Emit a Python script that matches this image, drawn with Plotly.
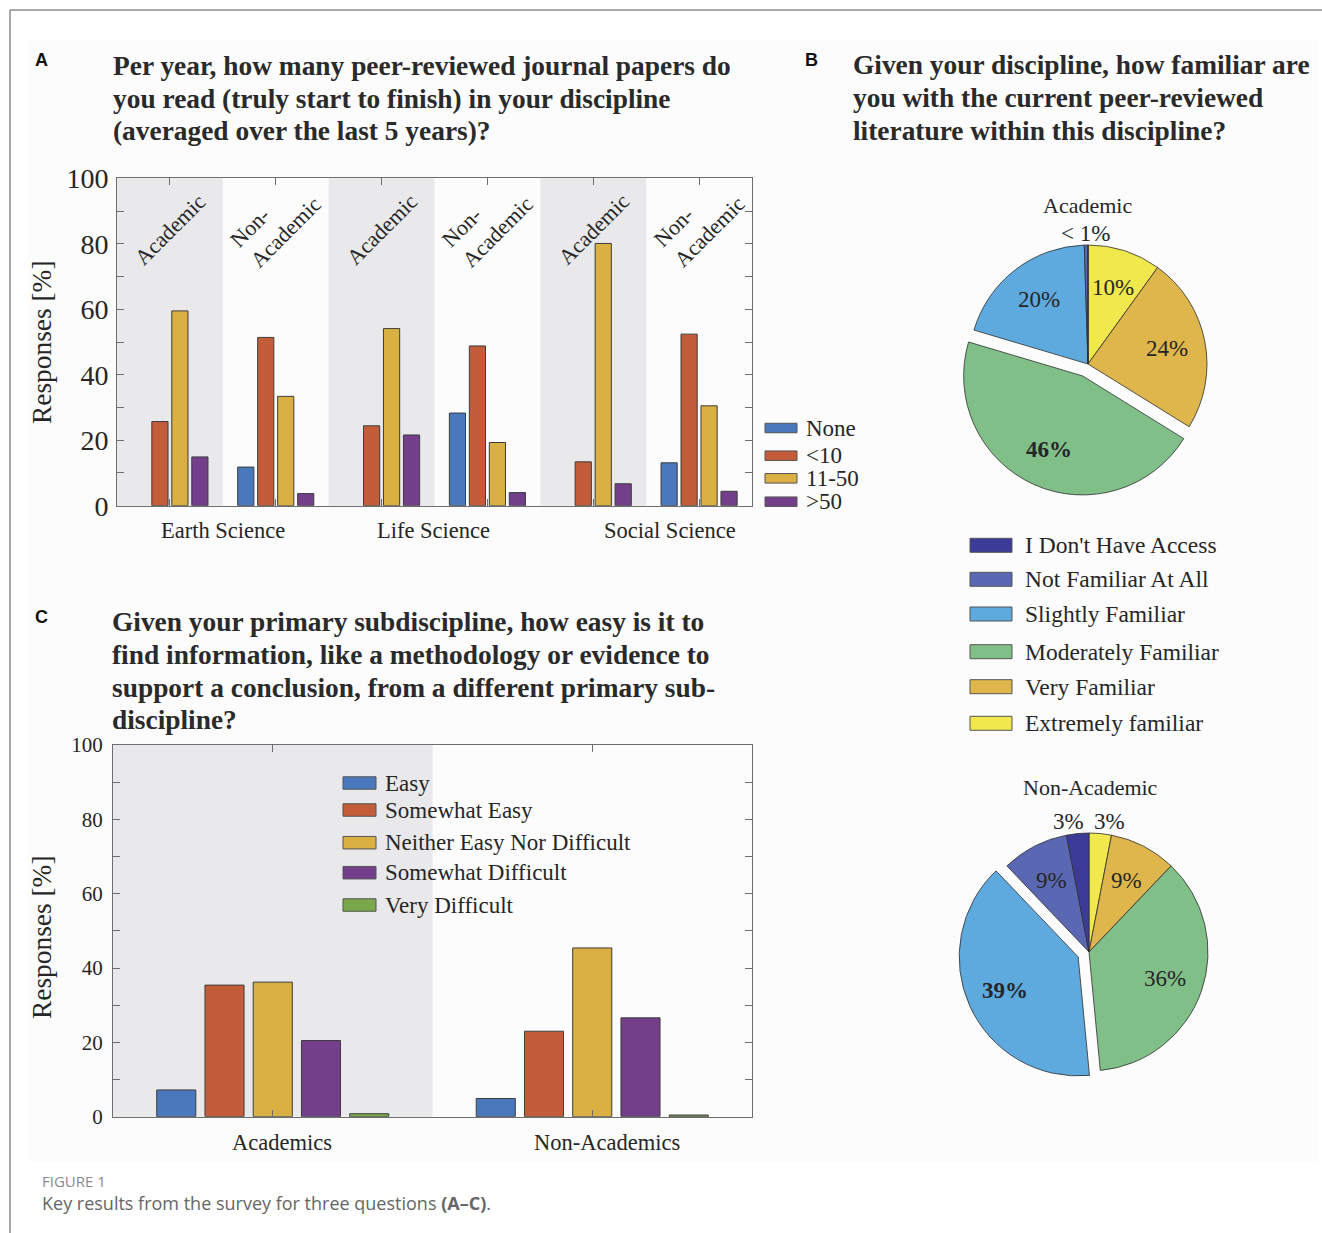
import math
import plotly.graph_objects as go

W, H = 1322, 1233
SERIF = "Liberation Serif, Times New Roman, serif"
SANS = "Liberation Sans, Arial, sans-serif"
INK = "#262626"

# ---------------- Panel A: papers read per year ----------------
group_pos = [1, 2, 3, 4, 5, 6]
cohort_labels = ["Academic", "Non-<br>Academic", "Academic", "Non-<br>Academic",
                 "Academic", "Non-<br>Academic"]
disciplines = ["Earth Science", "Life Science", "Social Science"]
reading_levels = ["None", "<10", "11-50", ">50"]
reads_none = [0, 11.8, 0, 28.3, 0, 13.1]
reads_lt10 = [25.7, 51.4, 24.4, 48.8, 13.4, 52.4]
reads_11_50 = [59.5, 33.4, 54.1, 19.3, 80.1, 30.5]
reads_gt50 = [14.9, 3.7, 21.6, 4.0, 6.7, 4.4]

# ---------------- Panel B: familiarity with literature ----------------
familiarity = ["Extremely familiar", "Very Familiar", "Moderately Familiar",
               "Slightly Familiar", "Not Familiar At All", "I Don't Have Access"]
academic_share = [10, 24, 46, 20, 0.5, 0]
academic_text = ["10%", "24%", "46%", "20%", "< 1%", ""]
non_academic_share = [3, 9, 36, 39, 9, 3]
non_academic_text = ["3%", "9%", "36%", "39%", "9%", "3%"]
legend_order_b = ["I Don't Have Access", "Not Familiar At All", "Slightly Familiar",
                  "Moderately Familiar", "Very Familiar", "Extremely familiar"]

# ---------------- Panel C: ease of finding information ----------------
audiences = ["Academics", "Non-Academics"]
audience_pos = [1, 2]
ease_levels = ["Easy", "Somewhat Easy", "Neither Easy Nor Difficult",
               "Somewhat Difficult", "Very Difficult"]
ease_academics = [7.2, 35.4, 36.2, 20.5, 0.8]
ease_non_academics = [4.9, 23.0, 45.4, 26.6, 0.45]

# ---------------- colours ----------------
BLUE, ORANGE, YELLOW, PURPLE, GREEN = "#4a78bd", "#c35c39", "#dbb042", "#733f8b", "#79a84b"
reading_colors = [BLUE, ORANGE, YELLOW, PURPLE]
ease_colors = [BLUE, ORANGE, YELLOW, PURPLE, GREEN]
fam_colors = {
    "Extremely familiar": "#f0e84c",
    "Very Familiar": "#dfb64b",
    "Moderately Familiar": "#80bf88",
    "Slightly Familiar": "#5ea9dd",
    "Not Familiar At All": "#5a68b3",
    "I Don't Have Access": "#3c3c98",
}
BAR_EDGE = "#3d3d3d"
AXIS_GRAY = "#6e6e6e"


def px(x):
    return x / W


def py(y):
    return 1 - y / H


def text(t, x, y, size, family=SERIF, color=INK, xanchor="center", yanchor="middle", **kw):
    return dict(text=t, x=px(x), y=py(y), xref="paper", yref="paper",
                showarrow=False, xanchor=xanchor, yanchor=yanchor,
                font=dict(family=family, size=size, color=color), **kw)


fig = go.Figure()

# bars of panel A (empty bars get no outline)
for name, vals, col in zip(reading_levels, [reads_none, reads_lt10, reads_11_50, reads_gt50],
                           reading_colors):
    fig.add_trace(go.Bar(x=group_pos, y=vals, name=name,
                         marker=dict(color=col, line=dict(color=BAR_EDGE,
                                     width=[1 if v > 0 else 0 for v in vals])),
                         xaxis="x", yaxis="y", showlegend=False))

# bars of panel C
for i, (name, col) in enumerate(zip(ease_levels, ease_colors)):
    fig.add_trace(go.Bar(x=audience_pos, y=[ease_academics[i], ease_non_academics[i]],
                         name=name, marker=dict(color=col, line=dict(color=BAR_EDGE, width=1)),
                         xaxis="x2", yaxis="y2", showlegend=False))

# pies of panel B
PIE_R = 119
pies = [
    (academic_share, academic_text, (1088, 364), 0.11, 2),
    (non_academic_share, non_academic_text, (1089, 952), 0.10, 3),
]
annotations = []
for share, labels, (cx, cy), pull_amt, pulled in pies:
    half = PIE_R * (1 + pull_amt)
    pulls = [pull_amt if k == pulled else 0 for k in range(len(share))]
    fig.add_trace(go.Pie(
        values=share, labels=familiarity, sort=False, direction="clockwise", rotation=0,
        pull=pulls, textinfo="none", hoverinfo="label+percent", showlegend=False,
        automargin=False,
        marker=dict(colors=[fam_colors[f] for f in familiarity],
                    line=dict(color="#2e2e2e", width=0.8)),
        domain=dict(x=[px(cx - half), px(cx + half)], y=[py(cy + half), py(cy - half)]),
    ))
    # percentage labels placed at each slice's mid angle
    total = sum(share)
    n_small = sum(1 for v, lab in zip(share, labels) if lab and v < 5)
    cum = 0
    for k, (v, lab) in enumerate(zip(share, labels)):
        mid = (cum + v / 2) / total * 2 * math.pi
        cum += v
        if not lab:
            continue
        small = v < 5
        dist = PIE_R * (1.1 if small else 0.68) + (pulls[k] * PIE_R)
        lx = cx + dist * math.sin(mid)
        ly = cy - dist * math.cos(mid)
        # keep neighbouring outside labels apart
        shift = 0
        if small and n_small > 1:
            shift = 8 if math.sin(mid) > 0 else -8
        bold = k == pulled
        annotations.append(text(f"<b>{lab}</b>" if bold else lab, lx, ly, 23, xshift=shift))

axis_common = dict(ticks="inside", ticklen=7, tickcolor=AXIS_GRAY, showline=True,
                   linecolor=AXIS_GRAY, linewidth=1, mirror="ticks", showgrid=False,
                   zeroline=False, automargin=False)
y_ticks = list(range(0, 101, 10))
y_text = [str(v) if v % 20 == 0 else "" for v in y_ticks]

fig.update_layout(
    width=W, height=H, margin=dict(l=0, r=0, t=0, b=0, pad=0, autoexpand=False),
    paper_bgcolor="white", plot_bgcolor="white",
    barmode="group", bargap=0.245, bargroupgap=0.19,
    xaxis=dict(domain=[px(117), px(752)], range=[0.5, 6.5], tickvals=group_pos,
               showticklabels=False, anchor="y", **axis_common),
    yaxis=dict(domain=[py(505.7), py(178.3)], range=[0, 100], tickvals=y_ticks,
               ticktext=y_text, tickfont=dict(family=SERIF, size=28, color=INK),
               ticklabelstandoff=2, anchor="x", **axis_common),
    xaxis2=dict(domain=[px(113), px(752)], range=[0.5, 2.5], tickvals=audience_pos,
                showticklabels=False, anchor="y2", **axis_common),
    yaxis2=dict(domain=[py(1116.7), py(745)], range=[0, 100], tickvals=y_ticks,
                ticktext=y_text, tickfont=dict(family=SERIF, size=21, color=INK),
                ticklabelstandoff=5, anchor="x2", **axis_common),
)

shapes = []
# page frame and light figure backdrop
shapes.append(dict(type="rect", xref="paper", yref="paper", x0=px(28), x1=px(1318),
                   y0=py(1162), y1=py(40), fillcolor="#fcfcfc", line=dict(width=0),
                   layer="below"))
shapes.append(dict(type="line", xref="paper", yref="paper", x0=px(10), x1=1, y0=py(10),
                   y1=py(10), line=dict(color="#8c8c8c", width=1.5)))
shapes.append(dict(type="line", xref="paper", yref="paper", x0=px(10), x1=px(10), y0=0,
                   y1=py(10), line=dict(color="#8c8c8c", width=1.5)))
# shaded bands behind academic groups
for g in [1, 3, 5]:
    shapes.append(dict(type="rect", xref="x", yref="y domain", x0=g - 0.5, x1=g + 0.5,
                       y0=0, y1=1, fillcolor="#e9e8ea", line=dict(width=0), layer="below"))
shapes.append(dict(type="rect", xref="x2", yref="y2 domain", x0=0.5, x1=1.5, y0=0, y1=1,
                   fillcolor="#e9e8ea", line=dict(width=0), layer="below"))


def legend_rows(names, colors, x0, x1, ys, h, tx, size):
    for name, col, yc in zip(names, colors, ys):
        shapes.append(dict(type="rect", xref="paper", yref="paper", x0=px(x0), x1=px(x1),
                           y0=py(yc + h / 2), y1=py(yc - h / 2), fillcolor=col,
                           line=dict(color="#555555", width=1)))
        annotations.append(text(name.replace("<", "&lt;").replace(">", "&gt;"), tx, yc,
                                size, xanchor="left"))


legend_rows(reading_levels, reading_colors, 765, 797, [428, 455.7, 478.3, 501.7], 9.5,
            804, 23)
legend_rows(legend_order_b, [fam_colors[n] for n in legend_order_b], 970, 1012,
            [545.3, 579.3, 614, 651.7, 686.7, 723.3], 14, 1023, 23.5)
legend_rows(ease_levels, ease_colors, 343, 376, [783, 810, 842.7, 872.7, 905], 12.5, 383, 23)

# rotated cohort labels above groups of panel A
for g, lab in zip(group_pos, cohort_labels):
    two_line = "<br>" in lab
    annotations.append(dict(text=lab, x=g, xref="x", y=py(222 if two_line else 229),
                            yref="paper", showarrow=False, textangle=-45, align="left",
                            font=dict(family=SERIF, size=22, color=INK),
                            xanchor="center", yanchor="middle"))

# category labels beneath the axes
for lab, x in zip(disciplines, [222.5, 433, 670]):
    annotations.append(text(lab, x, 530, 22.5))
for lab, x in zip(audiences, [282, 607]):
    annotations.append(text(lab, x, 1142, 22.5))

# axis titles
annotations.append(text("Responses [%]", 42, 342, 27.4, textangle=-90))
annotations.append(text("Responses [%]", 42, 937, 27.4, textangle=-90))

# panel letters
annotations.append(text("<b>A</b>", 41, 60, 18, family=SANS, color="#111"))
annotations.append(text("<b>B</b>", 811, 60, 18, family=SANS, color="#111"))
annotations.append(text("<b>C</b>", 41, 617, 18, family=SANS, color="#111"))

# question titles
title_a = ["Per year, how many peer-reviewed journal papers do",
           "you read (truly start to finish) in your discipline",
           "(averaged over the last 5 years)?"]
title_b = ["Given your discipline, how familiar are",
           "you with the current peer-reviewed",
           "literature within this discipline?"]
title_c = ["Given your primary subdiscipline, how easy is it to",
           "find information, like a methodology or evidence to",
           "support a conclusion, from a different primary sub-",
           "discipline?"]
for lines, x, ys in [(title_a, 111, [66, 98.5, 131]), (title_b, 851, [65, 98, 131]),
                     (title_c, 110, [622, 655, 688, 720])]:
    for line, y in zip(lines, ys):
        annotations.append(text(f"<b>{line}</b>", x, y, 27.4, color="#2a2a2a",
                                xanchor="left"))

# pie titles
annotations.append(text("Academic", 1087, 206, 22))
annotations.append(text("Non-Academic", 1090, 787, 22))

# caption
annotations.append(text("FIGURE 1", 40, 1181, 15, family="Open Sans", color="#8a8a8a",
                        xanchor="left"))
annotations.append(text("Key results from the survey for three questions <b>(A–C)</b>.", 40,
                        1203, 18, family="Open Sans", color="#666666", xanchor="left"))

fig.update_layout(shapes=shapes, annotations=annotations)
fig.write_html("out.html")
